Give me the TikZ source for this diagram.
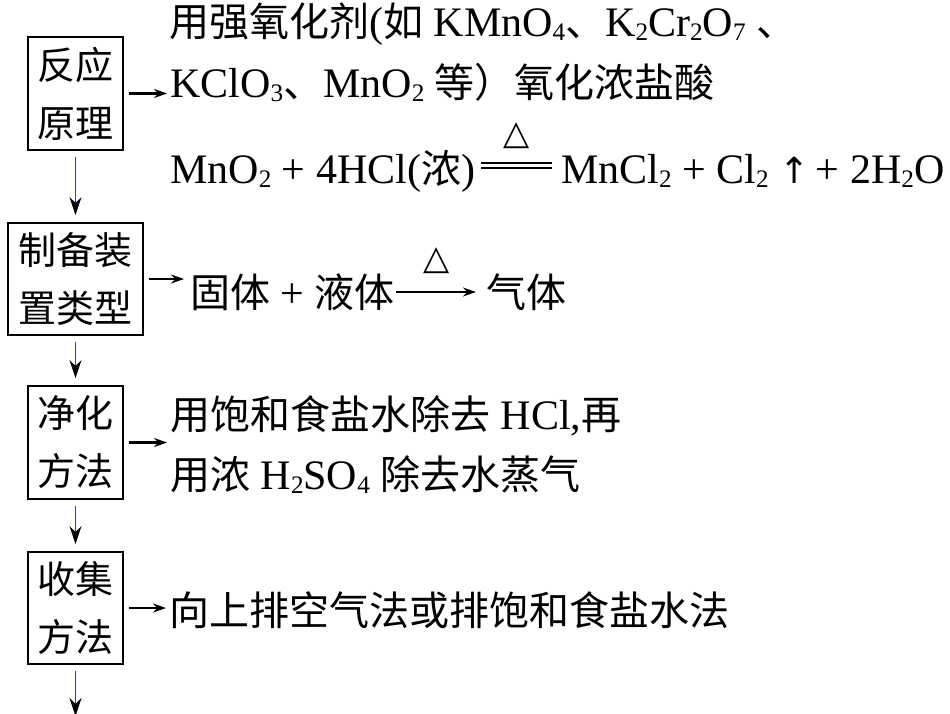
\documentclass[tikz,border=0pt]{standalone}
\usepackage{fontspec}
\setmainfont{Liberation Serif}[Scale=1.05]
\newfontfamily\cjk{Noto Sans CJK SC}
\newfontfamily\sym{DejaVu Sans}
\usetikzlibrary{arrows.meta,positioning}
\newcommand\zh[1]{{\cjk #1}}
\newcommand\dn[1]{\raisebox{-4pt}{\fontsize{24}{24}\selectfont #1}}
\definecolor{downline}{RGB}{75,60,125}
\tikzset{
  box/.style={draw,line width=1.8pt,align=center,inner sep=0pt,minimum width=95pt,minimum height=113pt,font=\cjk\fontsize{38}{58}\selectfont},
  txt/.style={anchor=base west,inner sep=0pt,font=\fontsize{40}{48}\selectfont},
  heat/.style={inner sep=0pt,font=\sym\fontsize{34}{34}\selectfont},
  vline/.style={downline,line width=1.4pt,shorten <=6pt,shorten >=7pt,-{Stealth[length=18pt,width=12pt,black]}},
  hline/.style={line width=2.4pt,shorten <=5pt,shorten >=3pt,-{Stealth[length=13pt,width=9pt]}}
}

\begin{document}
\begin{tikzpicture}[x=1pt,y=-1pt]
    \useasboundingbox (0,0) rectangle (950,713);
    \node[box] (b1) at (75.5,93.5) {反应\\原理};
    \node[box,minimum width=135pt,minimum height=112pt] (b2) at (75.5,279) {制备装\\置类型};
    \node[box] (b3) at (75.5,442.5) {净化\\方法};
    \node[box,minimum height=112pt] (b4) at (75.5,608) {收集\\方法};
    \coordinate (bend) at (75.5,716);
    \node[txt] (t1a) at (169,36) {\zh{用强氧化剂}(\zh{如} KMnO\dn{4}\zh{、}K\dn{2}Cr\dn{2}O\dn{7} \zh{、}};
    \node[txt] (t1b) at (170,97) {KClO\dn{3}\zh{、}MnO\dn{2} \zh{等）氧化浓盐酸}};
    \node[txt] (eql) at (170,183) {MnO\dn{2} + 4HCl(\zh{浓})};
    \node[txt] (eqr) at (561,183) {MnCl\dn{2} + Cl\dn{2} {\sym\fontsize{36}{36}\selectfont ↑}\kern-4pt{} + 2H\dn{2}O};
    \node[heat] (heat1) at (517,136) {△};
    \draw[line width=1.3pt,shorten <=6pt,shorten >=9pt] ([yshift=20pt]eql.base east) -- ([yshift=20pt]eqr.base west);
    \draw[line width=1.3pt,shorten <=6pt,shorten >=9pt] ([yshift=15pt]eql.base east) -- ([yshift=15pt]eqr.base west);
    \node[txt] (t2a) at (190,307) {\zh{固体} + \zh{液体}};
    \node[txt] (t2b) at (486,307) {\zh{气体}};
    \node[heat] (heat2) at (437,261) {△};
    \draw[line width=1.6pt,shorten <=1pt,shorten >=10pt,-{Stealth[length=13pt,width=9pt]}] ([yshift=15pt]t2a.base east) -- ([yshift=15pt]t2b.base west);
    \node[txt] (t3a) at (170,429) {\zh{用饱和食盐水除去} HCl,\zh{再}};
    \node[txt] (t3b) at (170,489) {\zh{用浓} H\dn{2}SO\dn{4} \zh{除去水蒸气}};
    \node[txt] (t4) at (169,625) {\zh{向上排空气法或排饱和食盐水法}};
    \draw[hline] (b1.east) -- (b1.east -| t1b.west);
    \draw[hline,shorten >=6pt] (b2.east) -- (b2.east -| t2a.west);
    \draw[hline] (b3.east) -- (b3.east -| t3a.west);
    \draw[hline] (b4.east) -- (b4.east -| t4.west);
    \draw[vline] (b1) -- (b2);
    \draw[vline] (b2) -- (b3);
    \draw[vline] (b3) -- (b4);
    \draw[vline,shorten >=0pt] (b4) -- (bend);
\end{tikzpicture}
\end{document}
